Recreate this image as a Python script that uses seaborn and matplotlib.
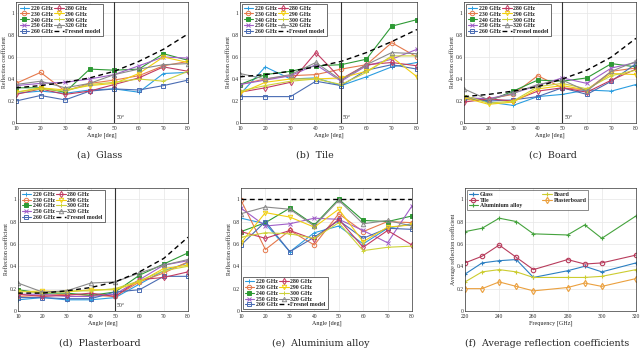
import numpy as np
import pandas as pd
import matplotlib
matplotlib.use("Agg")
import matplotlib.pyplot as plt
import seaborn as sns

# Incidence angles and frequencies
angles = [10, 20, 30, 40, 50, 60, 70, 80]
freqs = ["220 GHz", "230 GHz", "240 GHz", "250 GHz", "260 GHz",
         "280 GHz", "290 GHz", "300 GHz", "320 GHz"]

glass = {
    "220 GHz": [0.27, 0.29, 0.27, 0.30, 0.31, 0.28, 0.45, 0.46],
    "230 GHz": [0.36, 0.46, 0.29, 0.36, 0.39, 0.43, 0.52, 0.56],
    "240 GHz": [0.32, 0.32, 0.28, 0.49, 0.48, 0.49, 0.63, 0.57],
    "250 GHz": [0.34, 0.36, 0.37, 0.40, 0.44, 0.52, 0.60, 0.59],
    "260 GHz": [0.20, 0.25, 0.21, 0.29, 0.31, 0.30, 0.34, 0.39],
    "280 GHz": [0.26, 0.31, 0.26, 0.29, 0.35, 0.41, 0.51, 0.47],
    "290 GHz": [0.28, 0.32, 0.30, 0.34, 0.36, 0.45, 0.60, 0.55],
    "300 GHz": [0.28, 0.31, 0.29, 0.35, 0.37, 0.40, 0.38, 0.47],
    "320 GHz": [0.35, 0.38, 0.32, 0.36, 0.44, 0.49, 0.53, 0.54],
}
glass_fresnel = [0.32, 0.34, 0.37, 0.41, 0.47, 0.56, 0.67, 0.81]

tile = {
    "220 GHz": [0.26, 0.51, 0.40, 0.41, 0.34, 0.42, 0.51, 0.55],
    "230 GHz": [0.35, 0.40, 0.43, 0.44, 0.49, 0.53, 0.73, 0.60],
    "240 GHz": [0.35, 0.44, 0.47, 0.52, 0.53, 0.58, 0.88, 0.94],
    "250 GHz": [0.35, 0.39, 0.43, 0.53, 0.38, 0.52, 0.58, 0.67],
    "260 GHz": [0.24, 0.24, 0.24, 0.38, 0.34, 0.48, 0.53, 0.49],
    "280 GHz": [0.28, 0.32, 0.37, 0.64, 0.40, 0.53, 0.55, 0.52],
    "290 GHz": [0.27, 0.37, 0.40, 0.40, 0.41, 0.47, 0.60, 0.42],
    "300 GHz": [0.29, 0.34, 0.38, 0.40, 0.35, 0.46, 0.61, 0.61],
    "320 GHz": [0.45, 0.40, 0.44, 0.55, 0.39, 0.53, 0.64, 0.63],
}
tile_fresnel = [0.42, 0.44, 0.47, 0.51, 0.56, 0.64, 0.74, 0.85]

board = {
    "220 GHz": [0.24, 0.19, 0.16, 0.24, 0.26, 0.30, 0.29, 0.35],
    "230 GHz": [0.21, 0.22, 0.26, 0.43, 0.32, 0.30, 0.47, 0.50],
    "240 GHz": [0.24, 0.20, 0.29, 0.39, 0.38, 0.41, 0.54, 0.51],
    "250 GHz": [0.23, 0.22, 0.27, 0.34, 0.41, 0.36, 0.50, 0.55],
    "260 GHz": [0.22, 0.20, 0.21, 0.24, 0.32, 0.26, 0.38, 0.54],
    "280 GHz": [0.19, 0.22, 0.20, 0.29, 0.32, 0.28, 0.39, 0.49],
    "290 GHz": [0.23, 0.17, 0.19, 0.31, 0.34, 0.30, 0.45, 0.44],
    "300 GHz": [0.25, 0.18, 0.20, 0.33, 0.36, 0.31, 0.43, 0.48],
    "320 GHz": [0.31, 0.21, 0.27, 0.35, 0.39, 0.29, 0.47, 0.56],
}
board_fresnel = [0.24, 0.26, 0.29, 0.33, 0.40, 0.48, 0.60, 0.77]

plaster = {
    "220 GHz": [0.10, 0.12, 0.10, 0.10, 0.12, 0.24, 0.36, 0.43],
    "230 GHz": [0.13, 0.14, 0.15, 0.14, 0.13, 0.26, 0.34, 0.44],
    "240 GHz": [0.19, 0.16, 0.16, 0.14, 0.17, 0.32, 0.42, 0.52],
    "250 GHz": [0.15, 0.15, 0.13, 0.13, 0.15, 0.28, 0.41, 0.45],
    "260 GHz": [0.12, 0.12, 0.11, 0.11, 0.17, 0.19, 0.31, 0.31],
    "280 GHz": [0.15, 0.13, 0.14, 0.16, 0.13, 0.28, 0.30, 0.35],
    "290 GHz": [0.17, 0.18, 0.17, 0.19, 0.19, 0.26, 0.38, 0.41],
    "300 GHz": [0.18, 0.16, 0.18, 0.18, 0.20, 0.27, 0.36, 0.40],
    "320 GHz": [0.25, 0.17, 0.18, 0.25, 0.26, 0.34, 0.41, 0.46],
}
plaster_fresnel = [0.16, 0.16, 0.18, 0.21, 0.26, 0.35, 0.47, 0.66]

alu = {
    "220 GHz": [0.83, 0.78, 0.53, 0.70, 0.76, 0.60, 0.74, 0.78],
    "230 GHz": [0.99, 0.55, 0.72, 0.59, 0.87, 0.71, 0.80, 0.79],
    "240 GHz": [0.71, 0.79, 0.92, 0.77, 1.00, 0.81, 0.80, 0.85],
    "250 GHz": [0.92, 0.76, 0.78, 0.83, 0.82, 0.72, 0.61, 0.94],
    "260 GHz": [0.59, 0.80, 0.53, 0.66, 0.81, 0.65, 0.74, 0.73],
    "280 GHz": [0.71, 0.65, 0.72, 0.64, 0.82, 0.57, 0.72, 0.59],
    "290 GHz": [0.61, 0.88, 0.84, 0.75, 0.91, 0.62, 0.75, 0.77],
    "300 GHz": [0.66, 0.70, 0.69, 0.65, 0.79, 0.54, 0.57, 0.58],
    "320 GHz": [0.87, 0.93, 0.91, 0.76, 0.99, 0.78, 0.81, 0.76],
}
alu_fresnel = [1.0, 1.0, 1.0, 1.0, 1.0, 1.0, 1.0, 1.0]

# Average reflection coefficient vs frequency
avg_freqs = [220, 230, 240, 250, 260, 280, 290, 300, 320]
avg_materials = ["Glass", "Tile", "Aluminium alloy", "Board", "Plasterboard"]
avg_vals = {
    "Glass":           [0.33, 0.43, 0.45, 0.46, 0.30, 0.36, 0.40, 0.35, 0.43],
    "Tile":            [0.43, 0.49, 0.59, 0.48, 0.37, 0.46, 0.42, 0.43, 0.50],
    "Aluminium alloy": [0.71, 0.74, 0.83, 0.80, 0.69, 0.68, 0.77, 0.65, 0.85],
    "Board":           [0.26, 0.35, 0.37, 0.35, 0.30, 0.30, 0.30, 0.31, 0.37],
    "Plasterboard":    [0.20, 0.20, 0.26, 0.22, 0.18, 0.21, 0.25, 0.22, 0.29],
}

# Styles (MATLAB-like)
f_colors = {
    "220 GHz": "#2a9de0", "230 GHz": "#e5794c", "240 GHz": "#2e9a35",
    "250 GHz": "#a05fc8", "260 GHz": "#4a6cb3", "280 GHz": "#c23b62",
    "290 GHz": "#f2cf10", "300 GHz": "#cdd23a", "320 GHz": "#8a8a8a",
}
f_markers = {
    "220 GHz": "+", "230 GHz": "o", "240 GHz": "s", "250 GHz": "x",
    "260 GHz": "s", "280 GHz": "d", "290 GHz": "v", "300 GHz": "+",
    "320 GHz": "^",
}
f_filled = {"240 GHz"}
m_colors = {"Glass": "#2b7fc2", "Tile": "#b83c5c", "Aluminium alloy": "#45a33d",
            "Board": "#cccc30", "Plasterboard": "#eba03e"}
m_markers = {"Glass": "+", "Tile": "o", "Aluminium alloy": "+",
             "Board": "+", "Plasterboard": "d"}

sns.set_style("whitegrid")
plt.rcParams["font.family"] = ["Liberation Serif", "DejaVu Serif"]
plt.rcParams["mathtext.fontset"] = "stix"

fig = plt.figure(figsize=(6.4, 3.49), dpi=100)
W, H = 640.0, 349.0


def make_ax(l, r, t, b):
    return fig.add_axes([l / W, 1 - b / H, (r - l) / W, (b - t) / H])


def style_ax(ax, xlabel, ylabel):
    ax.set_ylim(0, 1.1)
    ax.set_yticks([0, 0.2, 0.4, 0.6, 0.8, 1.0])
    ax.set_yticklabels(["0", "0.2", "0.4", "0.6", "0.8", "1"])
    ax.tick_params(labelsize=4.0, pad=1.0, length=0)
    ax.tick_params(axis="x", pad=2.0)
    ax.grid(True, color="#e6e6e6", linewidth=0.5)
    for s in ax.spines.values():
        s.set_color("#333333")
        s.set_linewidth(0.5)
    ax.set_xlabel(xlabel, fontsize=4.4, labelpad=1)
    ax.set_ylabel(ylabel, fontsize=4.2, labelpad=0.3)


def angle_panel(ax, data, fresnel, show_line=True, loc="upper left"):
    for f in freqs:
        filled = f in f_filled
        sns.lineplot(x=angles, y=data[f], ax=ax, color=f_colors[f],
                     marker=f_markers[f], markersize=3.2, linewidth=0.8,
                     markerfacecolor=f_colors[f] if filled else "none",
                     markeredgecolor=f_colors[f], markeredgewidth=0.7,
                     label=f)
    sns.lineplot(x=angles, y=fresnel, ax=ax, color="black", linewidth=1.0,
                 linestyle=(0, (3.5, 2.5)), label="Fresnel model")
    ax.set_xlim(10, 80)
    ax.set_xticks(angles)
    if show_line:
        ax.axvline(50, color="#333333", linewidth=0.8)
        ax.text(50.5, 0.01, r"50$^{o}$", fontsize=4, va="bottom", ha="left")
    style_ax(ax, "Angle [deg]", "Reflection coefficient")
    leg = ax.legend(ncol=2, loc=loc, frameon=True,
                    handlelength=1.6, handletextpad=0.3, columnspacing=0.3,
                    labelspacing=0.15, borderpad=0.3, borderaxespad=0.3,
                    prop={"weight": "bold", "size": 4.2})
    leg.get_frame().set_edgecolor("#333333")
    leg.get_frame().set_linewidth(0.5)
    leg.get_frame().set_alpha(1)
    leg.get_frame().set_boxstyle("square", pad=0)


ax_a = make_ax(16, 188, 2, 123)
angle_panel(ax_a, glass, glass_fresnel)
ax_b = make_ax(240, 417, 2, 123)
angle_panel(ax_b, tile, tile_fresnel)
ax_c = make_ax(464, 636, 2, 123)
angle_panel(ax_c, board, board_fresnel)
ax_d = make_ax(18, 188, 188, 311)
angle_panel(ax_d, plaster, plaster_fresnel)
ax_e = make_ax(241, 412, 188, 311)
angle_panel(ax_e, alu, alu_fresnel, show_line=False, loc="lower left")

ax_f = make_ax(465, 636, 188, 311)
for m in avg_materials:
    sns.lineplot(x=avg_freqs, y=avg_vals[m], ax=ax_f, color=m_colors[m],
                 marker=m_markers[m], markersize=3.2, linewidth=0.8,
                 markerfacecolor="none", markeredgecolor=m_colors[m],
                 markeredgewidth=0.8, label=m)
ax_f.set_xlim(220, 320)
ax_f.set_xticks([220, 240, 260, 280, 300, 320])
style_ax(ax_f, "Frequency [GHz]", "Average reflection coefficient")
leg = ax_f.legend(ncol=2, loc="upper left", frameon=True, handlelength=1.6,
                  handletextpad=0.3, columnspacing=3.5, labelspacing=0.15,
                  borderpad=0.3, borderaxespad=0.3,
                  prop={"weight": "bold", "size": 4.2})
leg.get_frame().set_edgecolor("#333333")
leg.get_frame().set_linewidth(0.5)
leg.get_frame().set_boxstyle("square", pad=0)

# Sub-captions
captions = [("(a)  Glass", 100, 155), ("(b)  Tile", 315, 155),
            ("(c)  Board", 553, 155), ("(d)  Plasterboard", 100, 343),
            ("(e)  Aluminium alloy", 321, 343),
            ("(f)  Average reflection coefficients", 547, 343)]
for txt, cx, cy in captions:
    fig.text(cx / W, 1 - cy / H, txt, fontsize=6.8, ha="center", va="center",
             family=["DejaVu Serif"])

fig.savefig("out.png", dpi=100)
